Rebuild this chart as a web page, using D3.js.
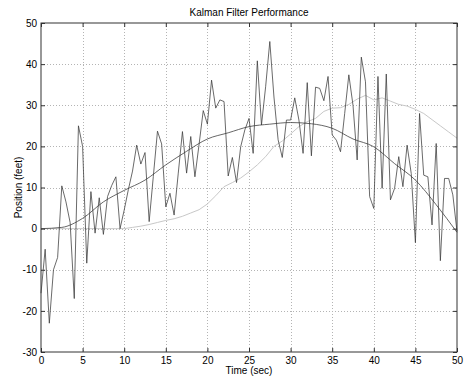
<!DOCTYPE html>
<html>
<head>
<meta charset="utf-8">
<script src="https://cdn.jsdelivr.net/npm/d3@7"></script>
<style>
  body { margin: 0; background: #fff; }
  text { font-family: "Liberation Sans", Arial, sans-serif; font-size: 10px; fill: #000; }
</style>
</head>
<body>
<svg id="chart"></svg>
<script>
// measured position, one sample every 0.5 s from t = 0 to 50
const measuredStep = 0.5;
const measured = [
  -15.7, -5, -23, -10, -7, 10.4, 6.5, 1.5, -17, 25,
  20, -8.4, 9, -1.1, 7.5, -1.4, 7.8, 10.5, 12.6, 0,
  4.5, 9.5, 14, 20.3, 15.7, 18.5, 1.7, 12.7, 23.7, 20.6,
  5.3, 8.6, 3.3, 13.5, 23.6, 13.5, 22.4, 12.6, 20.5, 28.7,
  25.4, 36.1, 29.3, 31.3, 30.9, 12.8, 17.3, 11.2, 19.9, 24,
  26.8, 18.3, 40.8, 25.2, 34.5, 45.5, 32, 21.6, 17.3, 26.4,
  26.4, 31.8, 26.4, 18.3, 35.5, 17.7, 34.4, 34.1, 31.1, 37,
  22.8, 21.5, 18.7, 28, 37.4, 30, 16.7, 41.7, 35.7, 7.8,
  4.9, 37, 9.8, 37.6, 7, 9.8, 17.5, 10.2, 20.3, 13.4,
  -3.4, 28, 13, 12.6, 0.9, 20.7, -7.8, 12.2, 12.2, 8.2,
  -0.7
];

// true position, every 2.5 s
const trueStep = 2.5;
const truePos = [
  0, 0.3, 2.5, 6.5, 9.3, 11.8, 15.5, 18.8, 21.8, 23.3,
  24.8, 25.4, 25.8, 25.5, 24.4, 21.8, 19.9, 15.8, 11.8, 5.8,
  -0.9
];

// filter estimate, every 1 s
const estStep = 1;
const estimate = [
  0, 0, 0, 0, 0, 0, 0, 0, 0, 0,
  0, 0.3, 0.6, 1.0, 1.5, 2.0, 2.4, 3.0, 3.8, 4.6,
  6.0, 8.0, 10.2, 11.2, 12.3, 13.8, 15.5, 17.5, 20.0, 21.3,
  23.0, 24.8, 26.0, 26.8, 28.5, 29.3, 29.4, 30.2, 31.5, 32.4,
  31.3, 31.8, 31.0, 30.2, 29.8, 29.0, 28.0, 26.5, 25.0, 23.5,
  22.0
];

const xTicks = [0, 5, 10, 15, 20, 25, 30, 35, 40, 45, 50];
const yTicks = [-30, -20, -10, 0, 10, 20, 30, 40, 50];

const width = 464, height = 379;
const margin = { top: 23, right: 7, bottom: 27, left: 41 };

const svg = d3.select("#chart")
  .attr("width", width)
  .attr("height", height);

const x = d3.scaleLinear().domain([0, 50]).range([margin.left, width - margin.right]);
const y = d3.scaleLinear().domain([-30, 50]).range([height - margin.bottom, margin.top]);

// grid
const grid = svg.append("g").attr("stroke", "#b4b4b4").attr("stroke-dasharray", "1,2").attr("shape-rendering", "crispEdges");
grid.selectAll(".gx").data(xTicks.slice(1, -1)).enter().append("line")
  .attr("x1", d => Math.round(x(d)) + 0.5).attr("x2", d => Math.round(x(d)) + 0.5)
  .attr("y1", y(50)).attr("y2", y(-30));
grid.selectAll(".gy").data(yTicks.slice(1, -1)).enter().append("line")
  .attr("y1", d => Math.round(y(d)) + 0.5).attr("y2", d => Math.round(y(d)) + 0.5)
  .attr("x1", x(0)).attr("x2", x(50));

// lines
const plot = svg.append("g");
const line = d3.line().x(d => x(d[0])).y(d => y(d[1]));

plot.append("path")
  .datum(estimate.map((v, i) => [i * estStep, v]))
  .attr("fill", "none").attr("stroke", "#c8c8c8").attr("stroke-width", 1)
  .attr("d", line);

plot.append("path")
  .datum(truePos.map((v, i) => [i * trueStep, v]))
  .attr("fill", "none").attr("stroke", "#404040").attr("stroke-width", 0.8)
  .attr("d", line.curve(d3.curveMonotoneX));

plot.append("path")
  .datum(measured.map((v, i) => [i * measuredStep, v]))
  .attr("fill", "none").attr("stroke", "#383838").attr("stroke-width", 0.75)
  .attr("d", line.curve(d3.curveLinear));

// axes, ticks drawn inward on all four sides, plain hyphen for negatives
const tickLen = 4;
const fmt = d => String(d);
svg.append("g").attr("transform", `translate(0,${y(-30)})`)
  .call(d3.axisBottom(x).tickValues(xTicks).tickSize(-tickLen).tickPadding(5).tickFormat(fmt))
  .call(g => g.select(".domain").remove());
svg.append("g").attr("transform", `translate(0,${y(50)})`)
  .call(d3.axisTop(x).tickValues(xTicks).tickSize(-tickLen).tickFormat(""))
  .call(g => g.select(".domain").remove());
svg.append("g").attr("transform", `translate(${x(0)},0)`)
  .call(d3.axisLeft(y).tickValues(yTicks).tickSize(-tickLen).tickPadding(4).tickFormat(fmt))
  .call(g => g.select(".domain").remove());
svg.append("g").attr("transform", `translate(${x(50)},0)`)
  .call(d3.axisRight(y).tickValues(yTicks).tickSize(-tickLen).tickFormat(""))
  .call(g => g.select(".domain").remove());

svg.selectAll(".tick line").attr("stroke", "#333");
svg.selectAll(".tick text").style("font-size", "10px").attr("fill", "#000");

svg.append("rect")
  .attr("x", x(0)).attr("y", y(50))
  .attr("width", x(50) - x(0)).attr("height", y(-30) - y(50))
  .attr("fill", "none").attr("stroke", "#333").attr("stroke-width", 1);

// labels
svg.append("text")
  .attr("x", (x(0) + x(50)) / 2).attr("y", 16)
  .attr("text-anchor", "middle")
  .text("Kalman Filter Performance");

svg.append("text")
  .attr("x", (x(0) + x(50)) / 2).attr("y", 374)
  .attr("text-anchor", "middle")
  .text("Time (sec)");

svg.append("text")
  .attr("transform", `translate(22,${(y(50) + y(-30)) / 2}) rotate(-90)`)
  .attr("text-anchor", "middle")
  .text("Position (feet)");
</script>
</body>
</html>
